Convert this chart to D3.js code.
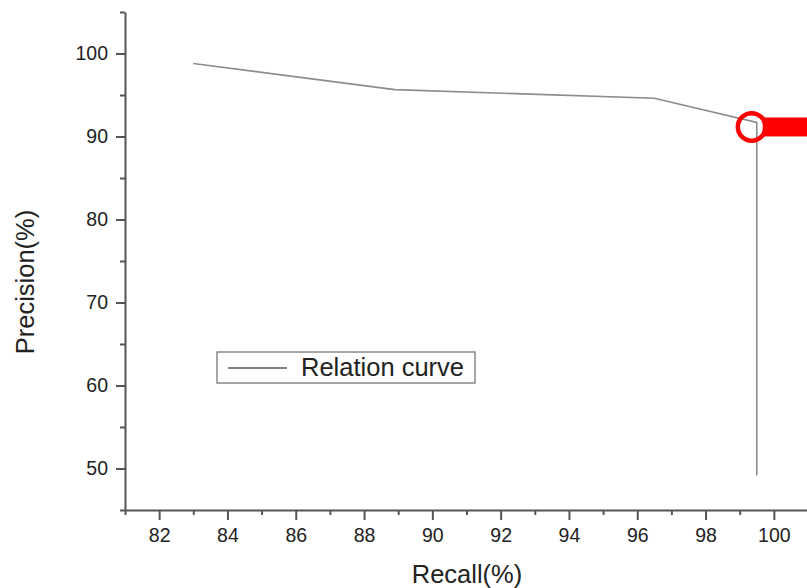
<!DOCTYPE html>
<meta charset="utf-8">
<style>
  body { margin: 0; background: #fff; }
  svg { display: block; font-family: "Liberation Sans", Arial, sans-serif; }
  .axis path, .axis line { stroke: #555; stroke-width: 2px; }
  .axis text { fill: #222; font-size: 19.5px; }
  .curve { fill: none; stroke: #8c8c8c; stroke-width: 1.6px; }
</style>
<body>
<svg width="807" height="588"></svg>
<script src="https://d3js.org/d3.v7.min.js"></script>
<script>
  // data
  var recall = [83, 88.9, 96.5, 99.5, 99.5];
  var precision = [98.8, 95.65, 94.6, 91.7, 49.2];
  var xTicks = [82, 84, 86, 88, 90, 92, 94, 96, 98, 100];
  var yTicks = [50, 60, 70, 80, 90, 100];
  var marker = [99.35, 91.15];   // red highlight circle

  var svg = d3.select("svg");

  var x = d3.scaleLinear().domain([81, 101]).range([125, 808]);
  var y = d3.scaleLinear().domain([45, 105]).range([510, 12]);

  // minor ticks
  var xMinor = d3.range(81, 102, 1).filter(function(d) { return d % 2 == 1; });
  var yMinor = d3.range(45, 106, 10);

  svg.append("g")
    .attr("class", "axis")
    .attr("transform", "translate(0,510)")
    .call(d3.axisBottom(x).tickValues(xMinor).tickSize(5).tickFormat(""))
    .call(function(g) { g.select(".domain").remove(); });

  svg.append("g")
    .attr("class", "axis")
    .attr("transform", "translate(125,0)")
    .call(d3.axisLeft(y).tickValues(yMinor).tickSize(5).tickFormat(""))
    .call(function(g) { g.select(".domain").remove(); });

  var xAxis = svg.append("g")
    .attr("class", "axis")
    .attr("transform", "translate(0,510)")
    .call(d3.axisBottom(x).tickValues(xTicks).tickSize(10).tickSizeOuter(0).tickPadding(8));
  xAxis.selectAll("text").attr("dy", "0.71em");

  svg.append("g")
    .attr("class", "axis")
    .attr("transform", "translate(125,0)")
    .call(d3.axisLeft(y).tickValues(yTicks).tickSize(9).tickSizeOuter(0).tickPadding(8));

  // axis titles
  svg.append("text")
    .attr("x", 467).attr("y", 583)
    .attr("text-anchor", "middle")
    .attr("font-size", 25.5).attr("fill", "#222")
    .text("Recall(%)");

  svg.append("text")
    .attr("transform", "translate(34,282) rotate(-90)")
    .attr("text-anchor", "middle")
    .attr("font-size", 25.5).attr("fill", "#222")
    .text("Precision(%)");

  // curve
  var line = d3.line()
    .x(function(d, i) { return x(recall[i]); })
    .y(function(d, i) { return y(precision[i]); });

  svg.append("path")
    .datum(recall)
    .attr("class", "curve")
    .attr("d", line);

  // legend
  var leg = svg.append("g").attr("transform", "translate(217,352)");
  leg.append("rect")
    .attr("width", 258).attr("height", 31)
    .attr("fill", "#fff").attr("stroke", "#777").attr("stroke-width", 1.3);
  leg.append("line")
    .attr("x1", 11).attr("x2", 70).attr("y1", 16).attr("y2", 16)
    .attr("stroke", "#555").attr("stroke-width", 1.3);
  leg.append("text")
    .attr("x", 84).attr("y", 24)
    .attr("font-size", 25.5).attr("fill", "#222")
    .text("Relation curve");

  // red highlight
  svg.append("rect")
    .attr("x", x(marker[0]) + 11).attr("y", y(marker[1]) - 9.5)
    .attr("width", 60).attr("height", 19)
    .attr("fill", "#ff0000");
  svg.append("circle")
    .attr("cx", x(marker[0])).attr("cy", y(marker[1]))
    .attr("r", 13.8)
    .attr("fill", "none").attr("stroke", "#ff0000").attr("stroke-width", 4.5);
</script>
</body>
